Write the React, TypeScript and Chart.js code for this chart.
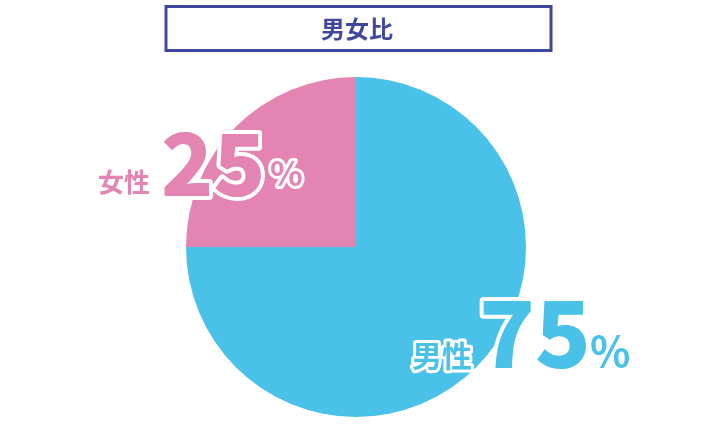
import React, { useEffect, useRef } from 'react';
import { Chart, registerables, Plugin } from 'chart.js';

Chart.register(...registerables);

const title = '男女比';
const labels = ['男性', '女性'];
const values = [75, 25];
const colors = ['#4AC1E9', '#E384B2'];

const CJK = '"Noto Sans CJK JP", "Noto Sans", sans-serif';

const outlined = (
    ctx: CanvasRenderingContext2D,
    text: string,
    x: number,
    y: number,
    font: string,
    color: string,
    stroke: number,
    align: CanvasTextAlign,
    baseline: CanvasTextBaseline
) => {
    ctx.font = font;
    ctx.textAlign = align;
    ctx.textBaseline = baseline;
    if (stroke > 0) {
        ctx.lineJoin = 'round';
        ctx.lineWidth = stroke;
        ctx.strokeStyle = '#ffffff';
        ctx.strokeText(text, x, y);
    }
    ctx.fillStyle = color;
    ctx.fillText(text, x, y);
};

const overlay: Plugin<'pie'> = {
    id: 'overlay',
    afterDraw(chart) {
        const ctx = chart.ctx;
        ctx.save();
        // title box
        ctx.strokeStyle = '#3F479F';
        ctx.lineWidth = 3;
        ctx.strokeRect(166, 6.5, 385, 44);
        outlined(ctx, title, 357, 29, `bold 24px ${CJK}`, '#3F479F', 0, 'center', 'middle');

        // 女性 25%
        outlined(ctx, labels[1], 150, 182, `bold 26px ${CJK}`, colors[1], 6, 'right', 'middle');
        outlined(ctx, String(values[1]), 161, 196, `900 86px ${CJK}`, colors[1], 8, 'left', 'alphabetic');
        outlined(ctx, '%', 270, 186, `bold 34px ${CJK}`, colors[1], 6, 'left', 'alphabetic');

        // 男性 75%
        outlined(ctx, labels[0], 472, 356, `bold 30px ${CJK}`, colors[0], 6, 'right', 'middle');
        outlined(ctx, String(values[0]), 479, 368, `900 92px ${CJK}`, colors[0], 8, 'left', 'alphabetic');
        outlined(ctx, '%', 590, 367, `bold 42px ${CJK}`, colors[0], 0, 'left', 'alphabetic');
        ctx.restore();
    },
};

const App: React.FC = () => {
    const chartRef = useRef<HTMLCanvasElement>(null);
    const chartInstanceRef = useRef<Chart | null>(null);

    useEffect(() => {
        document.body.style.margin = '0';
        if (chartRef.current) {
            const ctx = chartRef.current.getContext('2d');
            if (ctx) {
                chartInstanceRef.current = new Chart(ctx, {
                    type: 'pie',
                    data: {
                        labels,
                        datasets: [{
                            data: values,
                            backgroundColor: colors,
                            borderWidth: 0,
                        }],
                    },
                    options: {
                        responsive: true,
                        maintainAspectRatio: false,
                        animation: false,
                        layout: { padding: { top: 77, bottom: 7, left: 0, right: 7 } },
                        plugins: {
                            legend: { display: false },
                            tooltip: { enabled: false },
                        },
                    },
                    plugins: [overlay],
                });
            }
        }
        return () => {
            if (chartInstanceRef.current) {
                chartInstanceRef.current.destroy();
                chartInstanceRef.current = null;
            }
        };
    }, []);

    return (
        <div style={{ width: 719, height: 424, position: 'relative' }}>
            <canvas ref={chartRef}></canvas>
        </div>
    );
};

export default App;
